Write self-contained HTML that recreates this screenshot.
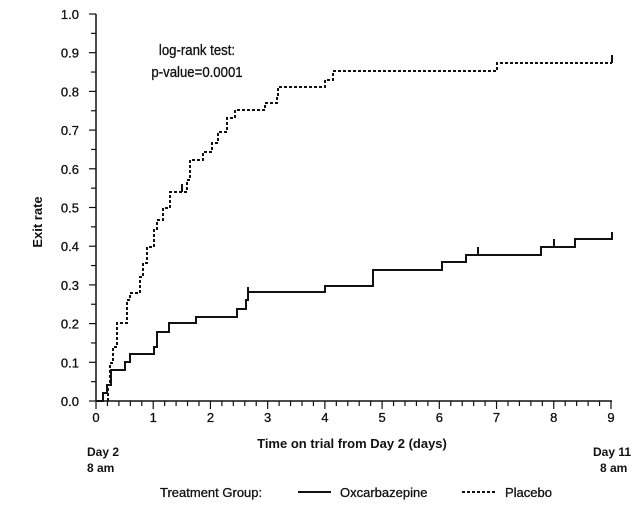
<!DOCTYPE html>
<html><head><style>
html,body{margin:0;padding:0;background:#fff;}
svg{display:block;}
text{font-family:"Liberation Sans",sans-serif;fill:#111;}
</style></head><body>
<svg width="644" height="505" viewBox="0 0 644 505" xmlns="http://www.w3.org/2000/svg">
<g stroke="#111" stroke-width="1.5" fill="none">
<line x1="96" y1="14" x2="96" y2="401"/>
<line x1="96" y1="401" x2="612" y2="401"/>
</g>
<g stroke="#111" stroke-width="1.2" id="yt"></g>
<g stroke="#111" stroke-width="1.2" id="xt"></g>
<g font-size="13" text-anchor="end" id="yl" stroke="#111" stroke-width="0.3"></g>
<g font-size="13" text-anchor="middle" id="xl" stroke="#111" stroke-width="0.3"></g>
<text transform="translate(42,222) rotate(-90)" font-size="13" font-weight="bold" text-anchor="middle">Exit rate</text>
<g transform="translate(197,0) scale(0.88,1)" font-size="15" text-anchor="middle" stroke="#111" stroke-width="0.3">
<text x="0" y="55">log-rank test:</text>
<text x="0" y="77">p-value=0.0001</text>
</g>
<path d="M96,401 H103 V393 H107 V385 H111 V370 H125 V362 H130 V354 H154 V347 H157 V332 H169 V323 H196 V317 H237 V309 H246 V300 H248 V292 H325 V286 H373 V270 H442 V262 H466 V255 H541 V247 H575 V239 H612 V232 M248,292 V287 M478,255 V247 M554,247 V239" stroke="#111" stroke-width="2" fill="none"/>
<path d="M108,401 V385 H110 V363 H113 V347 H117 V323 H127 V300 H130 V293 H140 V277 H143 V263 H147 V247 H154 V230 H157 V220 H163 V208 H170 V192 H187 V180 H190 V160 H203 V152 H212 V143 H218 V132 H227 V118 H235 V110 H265 V103 H277 V97 H278 V87 H325 V80 H333 V71 H497 V63 H612" stroke="#111" stroke-width="2" stroke-dasharray="3,2" fill="none"/>
<path d="M182,192 V184 M612,63 V55" stroke="#111" stroke-width="2"/>
<text x="352" y="448" font-size="13" font-weight="bold" text-anchor="middle">Time on trial from Day 2 (days)</text>
<text x="87" y="456" font-size="12" font-weight="bold">Day 2</text>
<text x="87" y="472" font-size="12" font-weight="bold">8 am</text>
<text x="593" y="456" font-size="12" font-weight="bold">Day 11</text>
<text x="600" y="472" font-size="12" font-weight="bold">8 am</text>
<g font-size="13" stroke="#111" stroke-width="0.3">
<text x="160" y="497">Treatment Group:</text>
<text x="340" y="497">Oxcarbazepine</text>
<text x="505" y="497">Placebo</text>
</g>
<line x1="298" y1="492" x2="331" y2="492" stroke="#111" stroke-width="2"/>
<line x1="462" y1="492" x2="496" y2="492" stroke="#111" stroke-width="2" stroke-dasharray="3,2"/>
</svg>
<script>
var ns="http://www.w3.org/2000/svg";
function el(p,t,a,txt){var e=document.createElementNS(ns,t);for(var k in a)e.setAttribute(k,a[k]);if(txt!=null)e.textContent=txt;document.getElementById(p).appendChild(e);}
for(var i=0;i<=20;i++){var y=401-i*19.35;el("yt","line",{x1:i%2?91:89,x2:96,y1:y,y2:y});if(i%2==0)el("yl","text",{x:79,y:y+5},(i/20).toFixed(1));}
for(var j=0;j<=45;j++){var x=96+j*57.22/5;el("xt","line",{x1:x,x2:x,y1:401,y2:j%5?406:409});if(j%5==0)el("xl","text",{x:x,y:422},j/5);}
</script>
</body></html>
